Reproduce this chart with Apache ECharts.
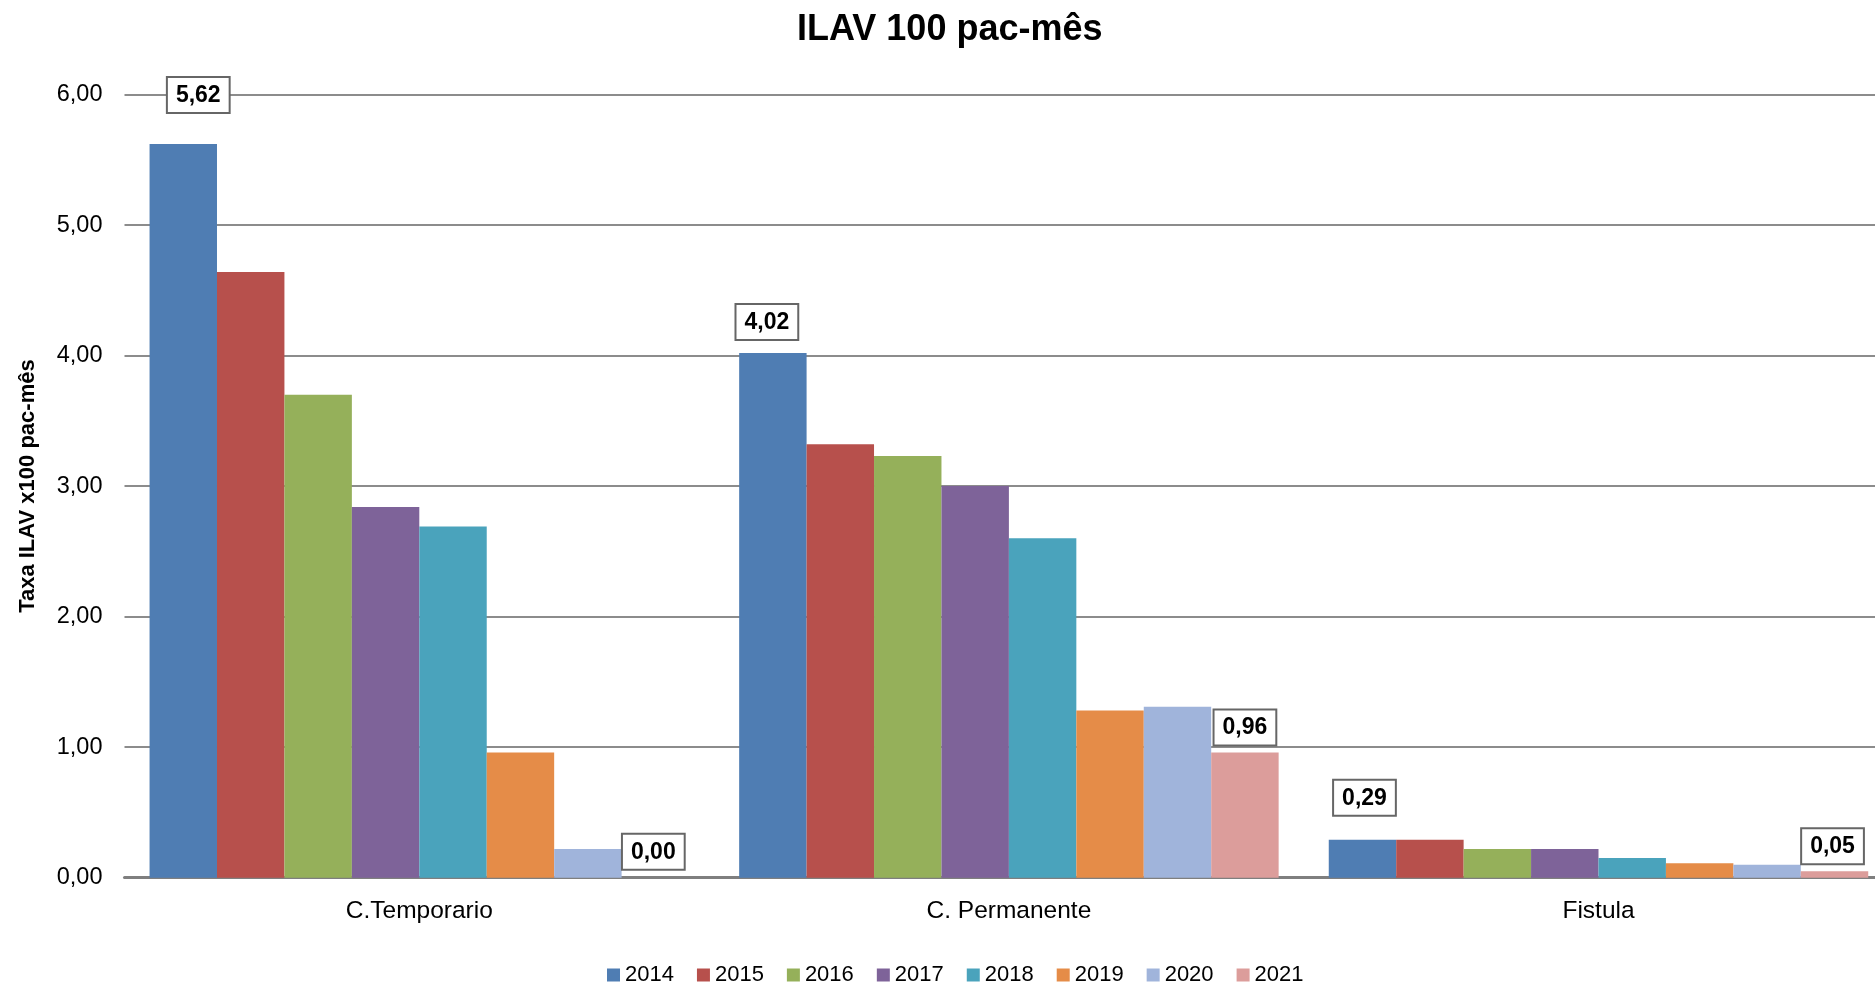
<!DOCTYPE html>
<html>
<head>
<meta charset="utf-8">
<script src="https://cdn.jsdelivr.net/npm/echarts@6/dist/echarts.min.js"></script>
<style>html,body{margin:0;padding:0;background:#fff;overflow:hidden;}#c{width:1875px;height:982px;}</style>
</head>
<body>
<div id="c"></div>
<script>
const categories = ['C.Temporario', 'C. Permanente', 'Fistula'];
const years = ['2014', '2015', '2016', '2017', '2018', '2019', '2020', '2021'];
const v2014 = [5.62, 4.02, 0.29];
const v2015 = [4.64, 3.32, 0.29];
const v2016 = [3.70, 3.23, 0.22];
const v2017 = [2.84, 3.00, 0.22];
const v2018 = [2.69, 2.60, 0.15];
const v2019 = [0.96, 1.28, 0.11];
const v2020 = [0.22, 1.31, 0.10];
const v2021 = [0.00, 0.96, 0.05];
const yTicks = [0, 1, 2, 3, 4, 5, 6];

const values = [v2014, v2015, v2016, v2017, v2018, v2019, v2020, v2021];
const colors = ['#4F7DB3', '#B7504C', '#95B05A', '#7E6399', '#4AA3BC', '#E58C48', '#A0B4DB', '#DC9D9B'];
const labeled = {'2014': [[15, -24], [-6, -6], [2, -17]], '2021': [[-2, -1], [0, 0], [-2, 0]]};
const FONT = 'Liberation Sans';
const fmt = v => Number(v).toFixed(2).replace('.', ',');

const series = years.map((y, i) => {
  const offs = labeled[y];
  return {
    name: y,
    type: 'bar',
    barGap: '0%',
    barCategoryGap: '8.5%',
    itemStyle: {color: colors[i]},
    data: values[i].map((v, j) => {
      const item = {value: v};
      if (offs) {
        item.label = {
          show: true, position: 'top', distance: 8, offset: offs[j],
          formatter: p => fmt(p.value),
          fontFamily: FONT, fontWeight: 'bold', fontSize: 23, color: '#000',
          backgroundColor: '#fff', borderColor: '#666', borderWidth: 2,
          padding: [6, 8, 5, 8]
        };
      }
      return item;
    })
  };
});

const chart = echarts.init(document.getElementById('c'));
chart.setOption({
  backgroundColor: '#fff',
  animation: false,
  title: {
    text: 'ILAV 100 pac-mês', left: 792, top: 7,
    textStyle: {fontFamily: FONT, fontWeight: 'bold', fontSize: 36, color: '#000'}
  },
  legend: {
    data: years, left: 602, top: 959, itemWidth: 13, itemHeight: 13, itemGap: 23, icon: 'rect',
    textStyle: {fontFamily: FONT, fontSize: 22, color: '#000', padding: [0, 0, 0, 0]}
  },
  grid: {left: 124.5, width: 1768.8, top: 94.5, bottom: 104.3, containLabel: false, outerBoundsMode: 'none'},
  xAxis: {
    type: 'category', data: categories,
    axisTick: {show: false},
    axisLine: {lineStyle: {color: '#7f7f7f', width: 3}},
    axisLabel: {fontFamily: FONT, fontSize: 24.5, color: '#000', margin: 21}
  },
  yAxis: {
    type: 'value', min: yTicks[0], max: yTicks[yTicks.length - 1], interval: 1,
    name: 'Taxa ILAV x100 pac-mês', nameLocation: 'middle', nameGap: 86,
    nameTextStyle: {fontFamily: FONT, fontWeight: 'bold', fontSize: 22, color: '#000'},
    axisLine: {show: false}, axisTick: {show: false},
    splitLine: {lineStyle: {color: '#8c8c8c', width: 2}},
    axisLabel: {fontFamily: FONT, fontSize: 23.5, color: '#000', margin: 22, formatter: v => fmt(v)}
  },
  series: series
});
</script>
</body>
</html>
